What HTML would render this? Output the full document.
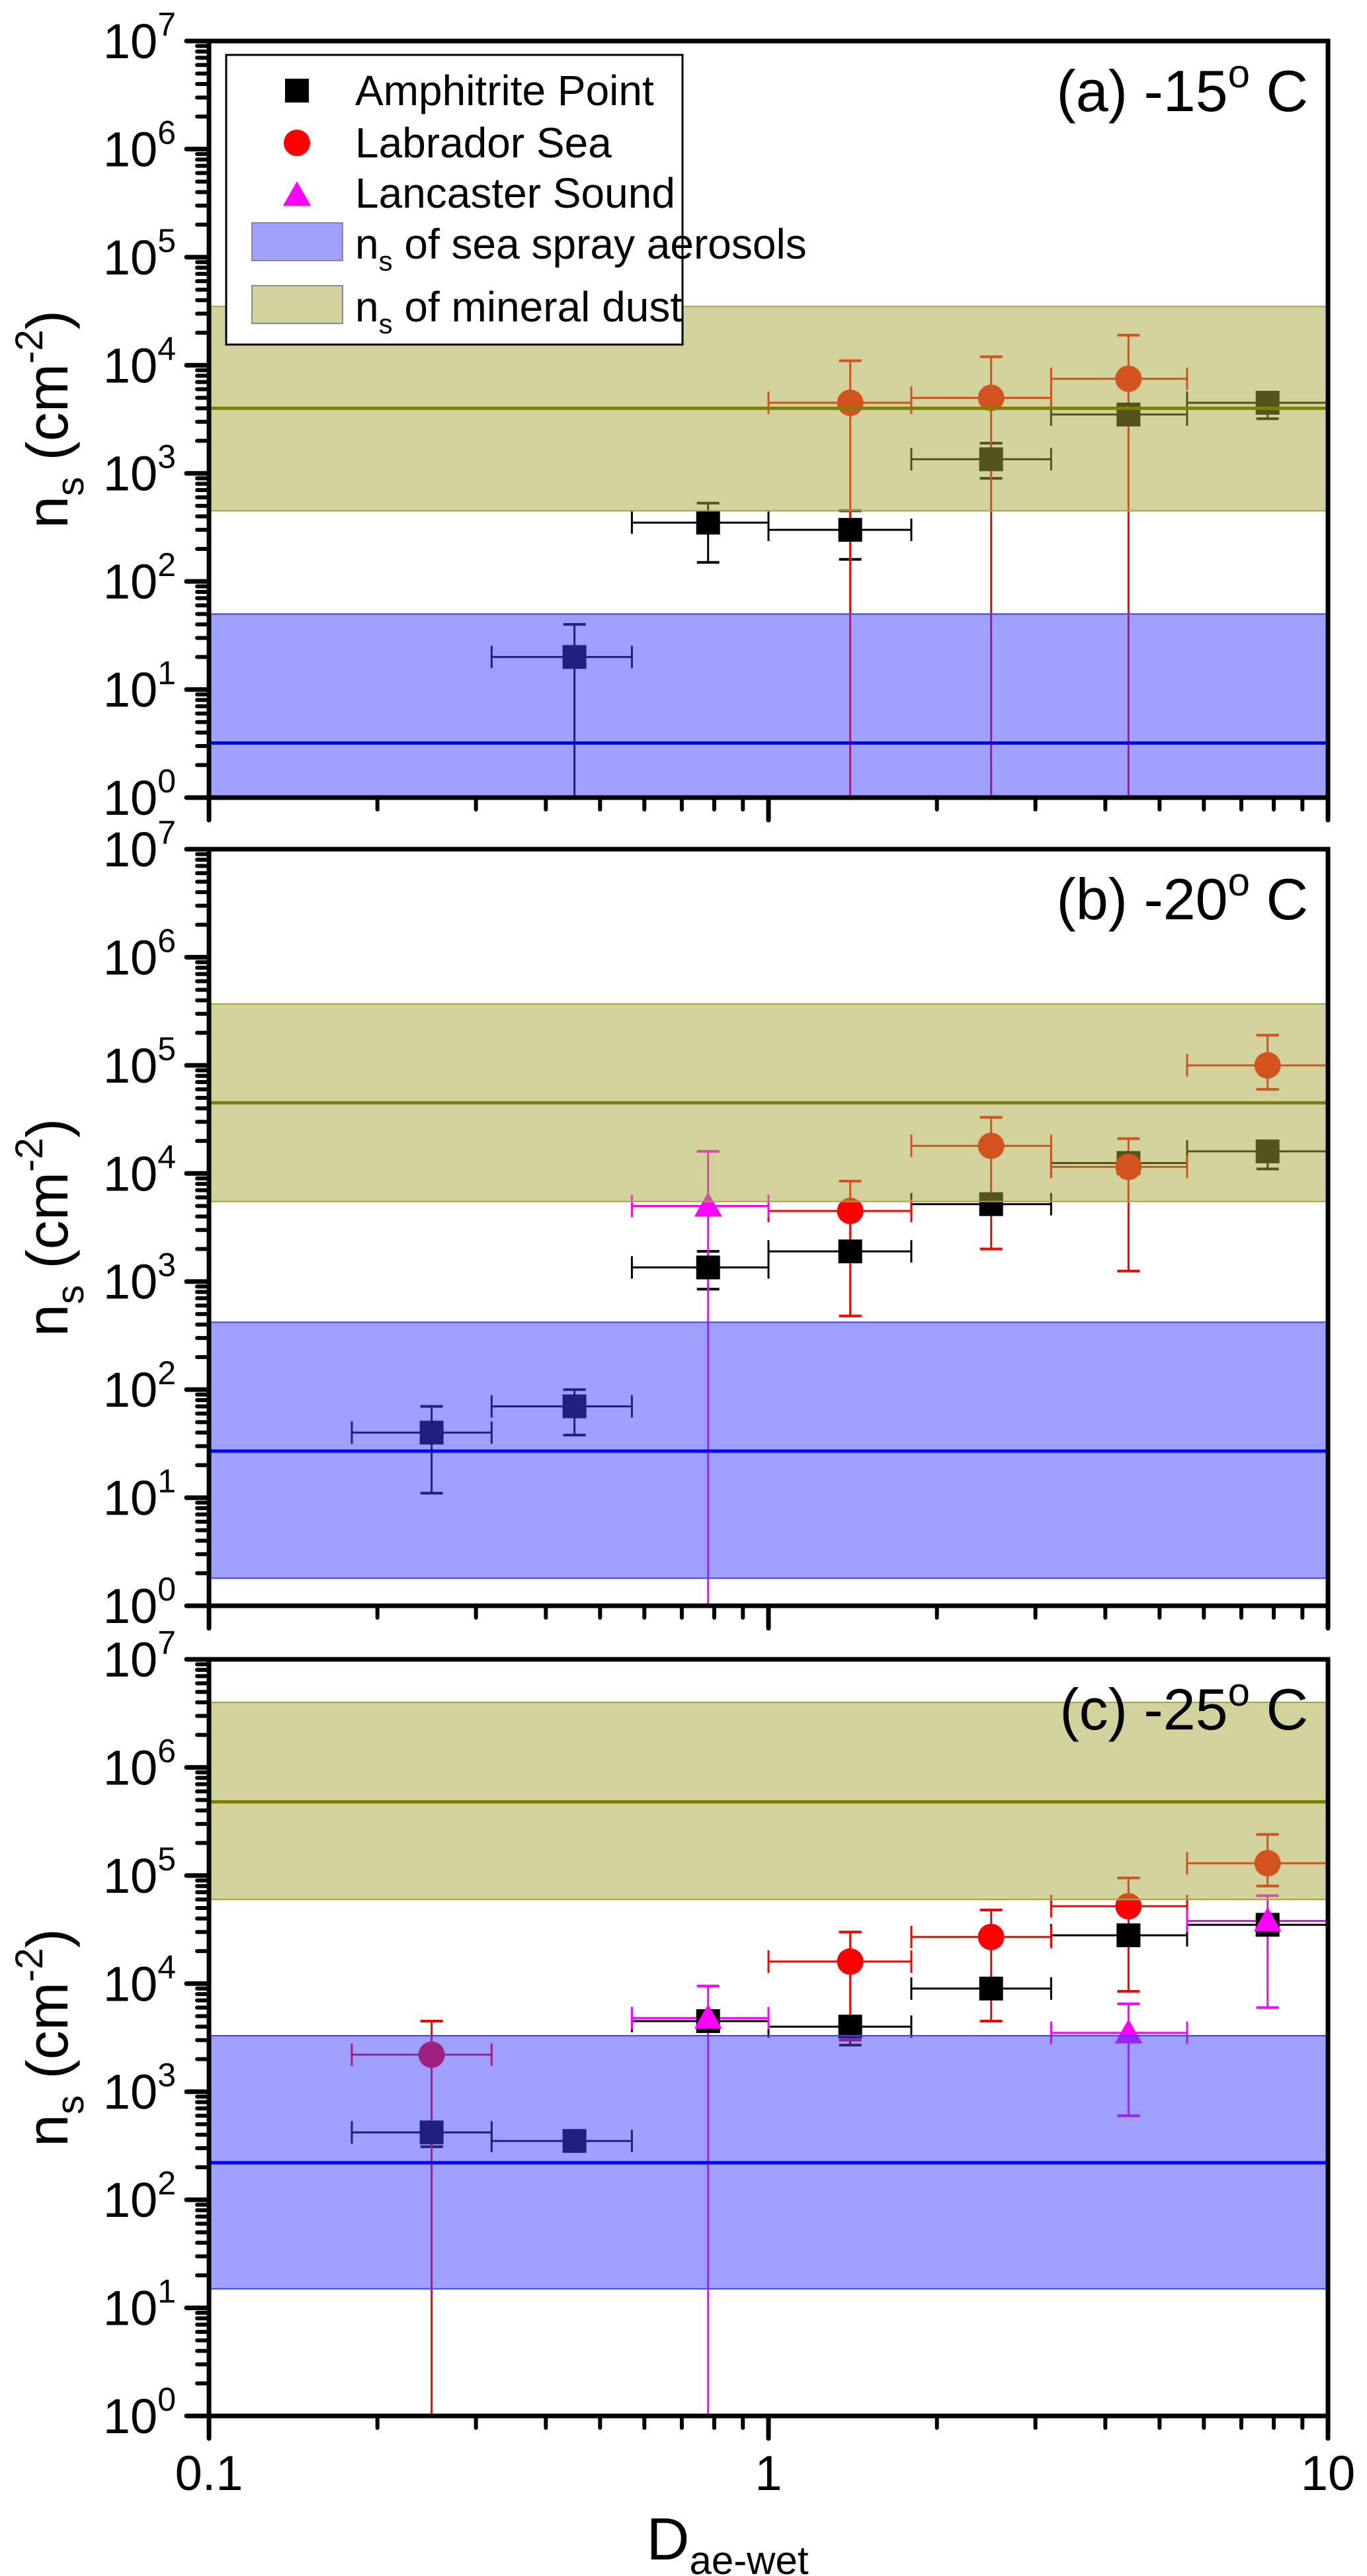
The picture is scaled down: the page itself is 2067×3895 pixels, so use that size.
<!DOCTYPE html>
<html><head><meta charset="utf-8"><style>
html,body{margin:0;padding:0;background:#fff}
svg{display:block;font-family:"Liberation Sans",Arial,sans-serif}
</style></head><body>
<svg id="chart" width="2067" height="3895" viewBox="0 0 2067 3895"></svg>
<script>
// ---- data ----
const panelTitles = ["(a) -15", "(b) -20", "(c) -25"];
const yTickExps = [0,1,2,3,4,5,6,7];
const xTickLabels = ["0.1","1","10"];
const xTickValues = [0.1,1,10];
// bands: [low, high, line]
const dustBand = [[450,35000,4000],[5500,370000,45000],[60000,4000000,480000]];
const ssaBand = [[1,50,3.2],[1.8,420,27],[15,3300,220]];
// Amphitrite Point: x, y, ylo, yhi, xlo, xhi
const ampA = [[0.45,20,1,40,0.32,0.57],[0.78,350,150,530,0.57,1.0],[1.4,300,160,450,1.0,1.8],[2.5,1350,900,1900,1.8,3.2],[4.4,3500,3000,4200,3.2,5.6],[7.8,4500,3200,5500,5.6,10]];
const ampB = [[0.25,40,11,70,0.18,0.32],[0.45,70,38,100,0.32,0.57],[0.78,1350,850,1900,0.57,1.0],[1.4,1900,1900,1900,1.0,1.8],[2.5,5200,5200,5200,1.8,3.2],[4.4,12500,11500,13500,3.2,5.6],[7.8,16000,11000,16000,5.6,10]];
const ampC = [[0.25,420,310,500,0.18,0.32],[0.45,350,300,400,0.32,0.57],[0.78,4500,4000,5000,0.57,1.0],[1.4,4000,2700,4500,1.0,1.8],[2.5,9000,9000,9000,1.8,3.2],[4.4,28000,28000,28000,3.2,5.6],[7.8,35000,30000,38000,5.6,10]];
const labA = [[1.4,4500,1,11000,1.0,1.8],[2.5,5000,1,12000,1.8,3.2],[4.4,7500,1,19000,3.2,5.6]];
const labB = [[1.4,4500,480,8500,1.0,1.8],[2.5,18000,2000,33000,1.8,3.2],[4.4,11500,1250,21000,3.2,5.6],[7.8,100000,60000,190000,5.6,10]];
const labC = [[0.25,2200,1,4500,0.18,0.32],[1.4,16000,3000,30000,1.0,1.8],[2.5,27000,4500,48000,1.8,3.2],[4.4,52000,8500,95000,3.2,5.6],[7.8,130000,80000,240000,5.6,10]];
const lanA = [];
const lanB = [[0.78,5000,1,16000,0.57,1.0]];
const lanC = [[0.78,4800,1,9500,0.57,1.0],[4.4,3500,600,6500,3.2,5.6],[7.8,38000,6000,65000,5.6,10]];
const ampSeries=[ampA,ampB,ampC], labSeries=[labA,labB,labC], lanSeries=[lanA,lanB,lanC];

// ---- layout ----
const NS="http://www.w3.org/2000/svg";
const svg=document.getElementById('chart');
const X0=316,X1=2008,PH=1144,tops=[62,1284,2509];
function xs(v){return X0+(Math.log10(v)-Math.log10(0.1))/2*(X1-X0);}
function ys(p,v){return tops[p]+PH-(Math.log10(v)/7)*PH;}
function mk(tag,attrs,parent){const e=document.createElementNS(NS,tag);for(const k in attrs)e.setAttribute(k,attrs[k]);(parent||svg).appendChild(e);return e;}

function errBars(g,p,pts,color){
  pts.forEach(d=>{
    const x=xs(d[0]),y=ys(p,d[1]);
    const yl=ys(p,Math.max(d[2],1)),yh=ys(p,d[3]);
    const xl=xs(d[4]),xh=xs(d[5]);
    const l1=mk('line',{x1:x,y1:yl,x2:x,y2:yh,stroke:color,'stroke-width':3},g);
    
    
    if(d[2]>1) mk('line',{x1:x-17,y1:yl,x2:x+17,y2:yl,stroke:color,'stroke-width':4},g);
    if(d[3]!==d[1]) mk('line',{x1:x-17,y1:yh,x2:x+17,y2:yh,stroke:color,'stroke-width':4},g);
    const l2=mk('line',{x1:xl,y1:y,x2:xh,y2:y,stroke:color,'stroke-width':3},g);
    
    
    mk('line',{x1:xl,y1:y-17,x2:xl,y2:y+17,stroke:color,'stroke-width':3},g);
    mk('line',{x1:xh,y1:y-17,x2:xh,y2:y+17,stroke:color,'stroke-width':3},g);
  });
}
function square(g,x,y,c){return mk('rect',{x:x-18,y:y-18,width:36,height:36,fill:c},g);}
function circle(g,x,y,c){return mk('circle',{cx:x,cy:y,r:20,fill:c},g);}
function tri(g,x,y,c){return mk('polygon',{points:`${x},${y-21} ${x+21},${y+16} ${x-21},${y+16}`,fill:c},g);}

for(let p=0;p<3;p++){
  const T=tops[p],B=T+PH;
  const g=mk('g',{});
  
  
  const pg=mk('g',{},g);
  
  
  errBars(pg,p,ampSeries[p],'#000');
  errBars(pg,p,labSeries[p],'#f00');
  errBars(pg,p,lanSeries[p],'#f0f');
  ampSeries[p].forEach(d=>{const e=square(pg,xs(d[0]),ys(p,d[1]),'#000');});
  labSeries[p].forEach(d=>{const e=circle(pg,xs(d[0]),ys(p,d[1]),'#f00');});
  lanSeries[p].forEach(d=>{const e=tri(pg,xs(d[0]),ys(p,d[1]),'#f0f');});
  const db=dustBand[p],sb=ssaBand[p];
  const r1=mk('rect',{x:X0,y:ys(p,db[1]),width:X1-X0,height:ys(p,db[0])-ys(p,db[1]),fill:'#a5a539','fill-opacity':0.5,stroke:'#a5a539','stroke-width':2},g);
  
  
  const l1=mk('line',{x1:X0,x2:X1,y1:ys(p,db[2]),y2:ys(p,db[2]),stroke:'#808000','stroke-width':5},g);
  
  
  const r2=mk('rect',{x:X0,y:ys(p,sb[1]),width:X1-X0,height:ys(p,sb[0])-ys(p,sb[1]),fill:'#3f3fff','fill-opacity':0.5,stroke:'#3f3fff','stroke-width':2},g);
  
  
  const l2=mk('line',{x1:X0,x2:X1,y1:ys(p,sb[2]),y2:ys(p,sb[2]),stroke:'#0000ff','stroke-width':5},g);
  
  
  const fr=mk('rect',{x:X0,y:T,width:X1-X0,height:PH,fill:'none',stroke:'#000','stroke-width':7},g);
  
  
  yTickExps.forEach(e=>{
    const y=ys(p,Math.pow(10,e));
    mk('line',{x1:X0-34,x2:X0,y1:y,y2:y,stroke:'#000','stroke-width':7,'stroke-linecap':'round'},g);
    const t=mk('text',{x:X0-50,y:y+26,'text-anchor':'end','font-size':74},g);
    
    
    t.textContent='10';
    const s=mk('tspan',{dy:-34,'font-size':50},t);s.textContent=String(e);
    if(e<7) for(let m=2;m<=9;m++){const ym=ys(p,m*Math.pow(10,e));mk('line',{x1:X0-18,x2:X0,y1:ym,y2:ym,stroke:'#000','stroke-width':6,'stroke-linecap':'round'},g);}
  });
  [0.1,1].forEach(dec=>{for(let m=2;m<=9;m++){const x=xs(m*dec);mk('line',{x1:x,x2:x,y1:B,y2:B+18,stroke:'#000','stroke-width':6,'stroke-linecap':'round'},g);}});
  xTickValues.forEach(v=>{const x=xs(v);mk('line',{x1:x,x2:x,y1:B,y2:B+34,stroke:'#000','stroke-width':7,'stroke-linecap':'round'},g);});
  const yt=mk('text',{transform:`translate(102,${T+PH/2}) rotate(-90)`,'text-anchor':'middle','font-size':88},g);
  
  
  yt.innerHTML='n<tspan dy="24" font-size="58">s</tspan><tspan dy="-24"> (cm</tspan><tspan dy="-38" font-size="58">-2</tspan><tspan dy="38">)</tspan>';
  const pt=mk('text',{x:1978,y:T+106,'text-anchor':'end','font-size':88},g);
  
  
  pt.innerHTML=panelTitles[p]+'<tspan dy="-36" font-size="60">o</tspan><tspan dy="36"> C</tspan>';
}
xTickValues.forEach((v,i)=>{
  const t=mk('text',{x:xs(v),y:3765,'text-anchor':'middle','font-size':74});
  
  
  t.textContent=xTickLabels[i];
});
const xt=mk('text',{x:1100,y:3870,'text-anchor':'middle','font-size':90});


xt.innerHTML='D<tspan dy="22" font-size="60">ae-wet</tspan>';
const lg=mk('g',{});


mk('rect',{x:342,y:83,width:690,height:438,fill:'#fff',stroke:'#000','stroke-width':3},lg);
const entries=[['Amphitrite Point','sq'],['Labrador Sea','ci'],['Lancaster Sound','tr'],['of sea spray aerosols','ssa'],['of mineral dust','dust']];
const ey=[137,216,292,369,464];
entries.forEach((en,i)=>{
  const y=ey[i];
  if(en[1]==='sq')square(lg,449,y,'#000');
  if(en[1]==='ci')circle(lg,449,y,'#f00');
  if(en[1]==='tr')tri(lg,449,y+3,'#f0f');
  if(en[1]==='ssa')mk('rect',{x:381,y:y-32,width:137,height:57,fill:'#9f9ffc',stroke:'#888','stroke-width':2},lg);
  if(en[1]==='dust')mk('rect',{x:381,y:y-32,width:137,height:57,fill:'#d2d29c',stroke:'#888','stroke-width':2},lg);
  const t=mk('text',{x:537,y:y+22,'font-size':64},lg);
  
  
  if(i>=3) t.innerHTML='n<tspan dy="18" font-size="42">s</tspan><tspan dy="-18"> '+en[0]+'</tspan>';
  else t.textContent=en[0];
});
</script>
</body></html>
